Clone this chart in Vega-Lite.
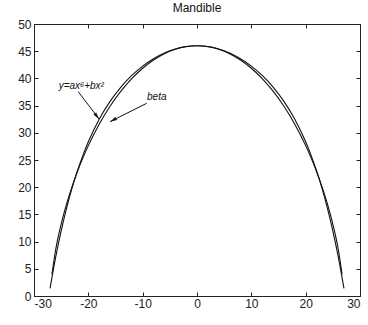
{
  "$schema": "https://vega.github.io/schema/vega-lite/v6.json",
  "autosize": "none",
  "width": 326,
  "height": 272,
  "padding": {"left": 34, "top": 24, "right": 8, "bottom": 29},
  "background": "white",
  "config": {
    "font": "Liberation Sans",
    "view": {"stroke": "#222", "strokeWidth": 1},
    "axis": {"grid": false, "domain": false, "ticks": true, "tickSize": -4, "tickColor": "#222", "labelColor": "#222", "labelFontSize": 12, "labelFont": "Liberation Sans", "title": null}
  },
  "title": {"text": "Mandible", "fontSize": 12, "fontWeight": "normal", "font": "Liberation Sans", "color": "#111", "offset": 3},
  "datasets": {
    "curves": [
      {"series": "poly", "x": -27.05, "y": 1.4},
      {"series": "poly", "x": -26, "y": 7.21},
      {"series": "poly", "x": -25, "y": 11.99},
      {"series": "poly", "x": -24, "y": 16.16},
      {"series": "poly", "x": -23, "y": 19.82},
      {"series": "poly", "x": -22, "y": 23.04},
      {"series": "poly", "x": -21, "y": 25.86},
      {"series": "poly", "x": -20, "y": 28.35},
      {"series": "poly", "x": -18, "y": 32.5},
      {"series": "poly", "x": -16, "y": 35.78},
      {"series": "poly", "x": -14, "y": 38.41},
      {"series": "poly", "x": -12, "y": 40.54},
      {"series": "poly", "x": -10, "y": 42.26},
      {"series": "poly", "x": -8, "y": 43.62},
      {"series": "poly", "x": -6, "y": 44.67},
      {"series": "poly", "x": -4, "y": 45.41},
      {"series": "poly", "x": -2, "y": 45.85},
      {"series": "poly", "x": 0, "y": 46},
      {"series": "poly", "x": 2, "y": 45.85},
      {"series": "poly", "x": 4, "y": 45.41},
      {"series": "poly", "x": 6, "y": 44.67},
      {"series": "poly", "x": 8, "y": 43.62},
      {"series": "poly", "x": 10, "y": 42.26},
      {"series": "poly", "x": 12, "y": 40.54},
      {"series": "poly", "x": 14, "y": 38.41},
      {"series": "poly", "x": 16, "y": 35.78},
      {"series": "poly", "x": 18, "y": 32.5},
      {"series": "poly", "x": 20, "y": 28.35},
      {"series": "poly", "x": 21, "y": 25.86},
      {"series": "poly", "x": 22, "y": 23.04},
      {"series": "poly", "x": 23, "y": 19.82},
      {"series": "poly", "x": 24, "y": 16.16},
      {"series": "poly", "x": 25, "y": 11.99},
      {"series": "poly", "x": 26, "y": 7.21},
      {"series": "poly", "x": 27.05, "y": 1.4},
      {"series": "beta", "x": -26.7, "y": 4.0},
      {"series": "beta", "x": -26, "y": 8.59},
      {"series": "beta", "x": -25, "y": 13.23},
      {"series": "beta", "x": -24, "y": 16.94},
      {"series": "beta", "x": -23, "y": 20.1},
      {"series": "beta", "x": -22, "y": 22.89},
      {"series": "beta", "x": -21, "y": 25.39},
      {"series": "beta", "x": -20, "y": 27.64},
      {"series": "beta", "x": -18, "y": 31.58},
      {"series": "beta", "x": -16, "y": 34.88},
      {"series": "beta", "x": -14, "y": 37.65},
      {"series": "beta", "x": -12, "y": 39.96},
      {"series": "beta", "x": -10, "y": 41.86},
      {"series": "beta", "x": -8, "y": 43.37},
      {"series": "beta", "x": -6, "y": 44.53},
      {"series": "beta", "x": -4, "y": 45.35},
      {"series": "beta", "x": -2, "y": 45.84},
      {"series": "beta", "x": 0, "y": 46},
      {"series": "beta", "x": 2, "y": 45.84},
      {"series": "beta", "x": 4, "y": 45.35},
      {"series": "beta", "x": 6, "y": 44.53},
      {"series": "beta", "x": 8, "y": 43.37},
      {"series": "beta", "x": 10, "y": 41.86},
      {"series": "beta", "x": 12, "y": 39.96},
      {"series": "beta", "x": 14, "y": 37.65},
      {"series": "beta", "x": 16, "y": 34.88},
      {"series": "beta", "x": 18, "y": 31.58},
      {"series": "beta", "x": 20, "y": 27.64},
      {"series": "beta", "x": 21, "y": 25.39},
      {"series": "beta", "x": 22, "y": 22.89},
      {"series": "beta", "x": 23, "y": 20.1},
      {"series": "beta", "x": 24, "y": 16.94},
      {"series": "beta", "x": 25, "y": 13.23},
      {"series": "beta", "x": 26, "y": 8.59},
      {"series": "beta", "x": 26.7, "y": 4.0}
    ],
    "arrows": [
      {"label": "y=ax⁶+bx²", "lx": -21.3, "ly": 38.6, "x": -21.85, "y": 37.55, "x2": -18.04, "y2": 32.54, "angle": 143},
      {"label": "beta", "lx": -7.4, "ly": 36.6, "x": -9.26, "y": 35.42, "x2": -16.01, "y2": 32.04, "angle": 243}
    ]
  },
  "layer": [
    {
      "data": {"name": "curves"},
      "mark": {"type": "line", "stroke": "#111", "strokeWidth": 1.1, "interpolate": "monotone"},
      "encoding": {
        "x": {"field": "x", "type": "quantitative", "scale": {"domain": [-30, 30], "nice": false}, "axis": {"orient": "bottom", "values": [-30, -20, -10, 0, 10, 20, 30], "labelPadding": 6, "labelExpr": "datum.value < 0 ? '-' + abs(datum.value) : '' + datum.value"}},
        "y": {"field": "y", "type": "quantitative", "scale": {"domain": [0, 50], "nice": false}, "axis": {"orient": "left", "values": [0, 5, 10, 15, 20, 25, 30, 35, 40, 45, 50], "labelPadding": 7}},
        "detail": {"field": "series"},
        "order": {"field": "x", "type": "quantitative"}
      }
    },
    {
      "data": {"name": "arrows"},
      "mark": {"type": "rule", "stroke": "#111", "strokeWidth": 1},
      "encoding": {
        "x": {"field": "x", "type": "quantitative", "axis": {"orient": "top", "values": [-30, -20, -10, 0, 10, 20, 30], "labels": false}},
        "y": {"field": "y", "type": "quantitative", "axis": {"orient": "right", "values": [0, 5, 10, 15, 20, 25, 30, 35, 40, 45, 50], "labels": false}},
        "x2": {"field": "x2"},
        "y2": {"field": "y2"}
      }
    },
    {
      "data": {"name": "arrows"},
      "mark": {"type": "point", "shape": "M0,0L-0.55,2.2L0.55,2.2Z", "filled": true, "color": "#111", "size": 40, "opacity": 1},
      "encoding": {
        "x": {"field": "x2", "type": "quantitative", "axis": null},
        "y": {"field": "y2", "type": "quantitative", "axis": null},
        "angle": {"field": "angle", "type": "quantitative", "scale": null}
      }
    },
    {
      "data": {"name": "arrows"},
      "mark": {"type": "text", "fontStyle": "italic", "fontSize": 10, "font": "Liberation Sans", "color": "#111"},
      "encoding": {
        "x": {"field": "lx", "type": "quantitative", "axis": null},
        "y": {"field": "ly", "type": "quantitative", "axis": null},
        "text": {"field": "label"}
      }
    }
  ],
  "resolve": {"axis": {"x": "independent", "y": "independent"}}
}
